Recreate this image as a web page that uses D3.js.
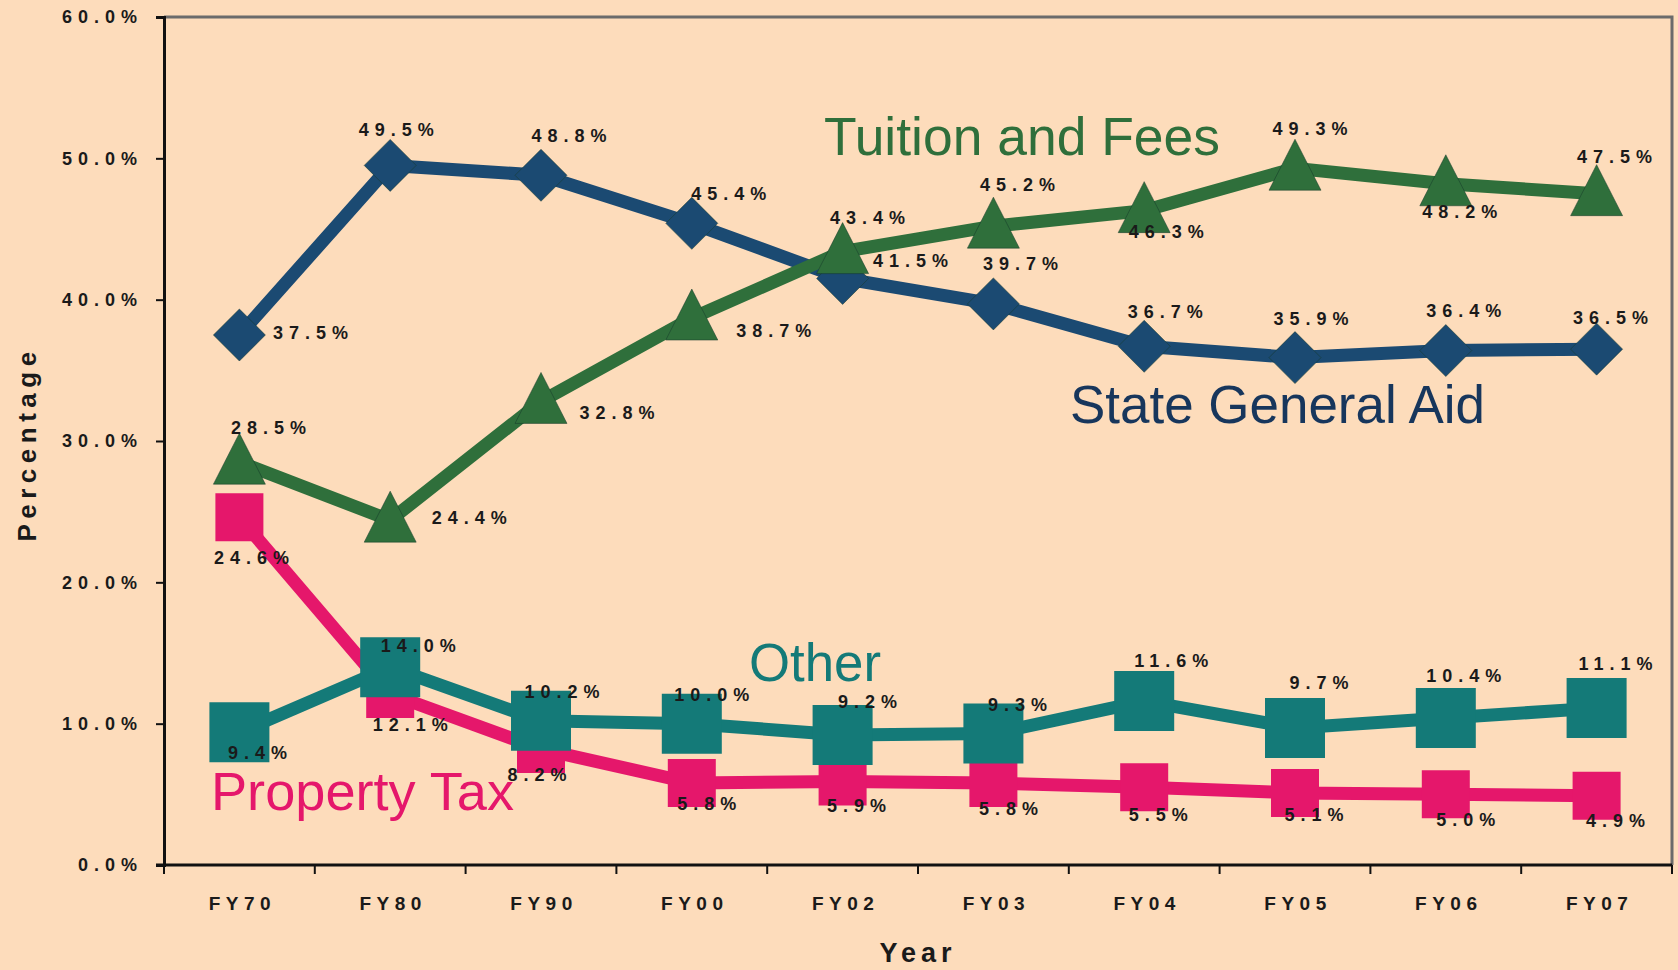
<!DOCTYPE html>
<html>
<head>
<meta charset="utf-8">
<script src="https://cdn.jsdelivr.net/npm/d3@7"></script>
<style>
  body { margin: 0; background: #fcdcbc; }
  svg { display: block; }
  .tick-label { font-family: "Liberation Sans", Arial, sans-serif; font-weight: bold; fill: #1a1a1a; }
  .name { font-family: "Liberation Sans", Arial, sans-serif; }
</style>
</head>
<body>
<svg></svg>
<script>
var years = ["FY70", "FY80", "FY90", "FY00", "FY02", "FY03", "FY04", "FY05", "FY06", "FY07"];
var yTicks = [0, 10, 20, 30, 40, 50, 60];

var stateAid = [37.5, 49.5, 48.8, 45.4, 41.5, 39.7, 36.7, 35.9, 36.4, 36.5];
var tuition = [28.5, 24.4, 32.8, 38.7, 43.4, 45.2, 46.3, 49.3, 48.2, 47.5];
var propertyTax = [24.6, 12.1, 8.2, 5.8, 5.9, 5.8, 5.5, 5.1, 5.0, 4.9];
var other = [9.4, 14.0, 10.2, 10.0, 9.2, 9.3, 11.6, 9.7, 10.4, 11.1];

// where each value label sits relative to its point
var stateAidLabels = [[71,-2],[6,-35],[28,-39],[37,-29],[68,-17],[27,-40],[21,-34],[16,-39],[18,-40],[14,-31]];
var tuitionLabels = [[29,-34],[79,-2],[76,12],[82,13],[25,-34],[24,-41],[22,21],[15,-39],[14,28],[18,-37]];
var propertyLabels = [[12,41],[20,31],[-4,26],[15,21],[14,24],[15,26],[14,28],[19,22],[20,26],[19,25]];
var otherLabels = [[18,21],[28,-21],[21,-29],[20,-29],[25,-33],[24,-29],[27,-40],[24,-45],[18,-42],[19,-44]];

var width = 1678, height = 970;
var margin = {top: 17, right: 6, bottom: 105, left: 164};

var svg = d3.select("svg")
   .attr("width", width)
   .attr("height", height);

svg.append("rect")
   .attr("width", width)
   .attr("height", height)
   .attr("fill", "#fddcbb");

var x = d3.scaleBand()
   .domain(years)
   .range([margin.left, width - margin.right]);

var y = d3.scaleLinear()
   .domain([0, 60])
   .range([height - margin.bottom, margin.top]);

// frame: grey top and right
svg.append("path")
   .attr("d", "M" + x.range()[0] + "," + y(60) + "H" + x.range()[1] + "V" + y(0))
   .attr("fill", "none")
   .attr("stroke", "#6b6b6b")
   .attr("stroke-width", 3);

// y axis
var yAxis = svg.append("g")
   .attr("transform", "translate(" + margin.left + ",0)")
   .call(d3.axisLeft(y).tickValues(yTicks).tickSize(8).tickFormat(function(d){ return d3.format(".1f")(d) + "%"; }));
yAxis.select(".domain").attr("stroke", "#111").attr("stroke-width", 3);
yAxis.selectAll(".tick line").attr("stroke", "#111").attr("stroke-width", 2);
yAxis.selectAll(".tick text")
   .attr("class", "tick-label")
   .attr("x", -21)
   .style("font-size", "18px")
   .style("letter-spacing", "6px")
   .attr("fill", "#1a1a1a");

// x axis: ticks at band edges
var xAxis = svg.append("g")
   .attr("transform", "translate(0," + y(0) + ")");
xAxis.append("line")
   .attr("x1", x.range()[0] - 8).attr("x2", x.range()[1])
   .attr("stroke", "#111").attr("stroke-width", 3);
xAxis.selectAll("line.tk")
   .data(years.concat(["end"]))
   .enter().append("line")
   .attr("class", "tk")
   .attr("x1", function(d, i){ return x.range()[0] + i * x.bandwidth(); })
   .attr("x2", function(d, i){ return x.range()[0] + i * x.bandwidth(); })
   .attr("y1", 0).attr("y2", 9)
   .attr("stroke", "#111").attr("stroke-width", 2);
xAxis.selectAll("text")
   .data(years)
   .enter().append("text")
   .attr("class", "tick-label")
   .attr("x", function(d){ return x(d) + x.bandwidth() / 2 + 3; })
   .attr("y", 45)
   .attr("text-anchor", "middle")
   .style("font-size", "19px")
   .style("letter-spacing", "5.5px")
   .text(function(d){ return d; });

// axis titles
svg.append("text")
   .attr("class", "tick-label")
   .attr("x", 918).attr("y", 962)
   .attr("text-anchor", "middle")
   .style("font-size", "27px")
   .style("letter-spacing", "5px")
   .text("Year");

svg.append("text")
   .attr("class", "tick-label")
   .attr("transform", "translate(36,444) rotate(-90)")
   .attr("text-anchor", "middle")
   .style("font-size", "26px")
   .style("letter-spacing", "5.5px")
   .text("Percentage");

var series = [
   {name: "State General Aid", values: stateAid, labels: stateAidLabels, color: "#1b4a72", shape: "diamond"},
   {name: "Tuition and Fees", values: tuition, labels: tuitionLabels, color: "#2f6f3b", shape: "triangle"},
   {name: "Property Tax", values: propertyTax, labels: propertyLabels, color: "#e5176b", shape: "smallsquare"},
   {name: "Other", values: other, labels: otherLabels, color: "#147a78", shape: "square"}
];

var line = d3.line()
   .x(function(d, i){ return x(years[i]) + x.bandwidth() / 2; })
   .y(function(d){ return y(d); });

function markerPath(shape) {
   if (shape == "diamond") return "M0,-26L26,0L0,26L-26,0Z";
   if (shape == "triangle") return "M0,-29L26,22L-26,22Z";
   if (shape == "smallsquare") return "M-24,-24H24V24H-24Z";
   return "M-30,-30H30V30H-30Z";
}

series.forEach(function(s) {
   var g = svg.append("g").attr("class", "series");
   g.append("path")
      .datum(s.values)
      .attr("d", line)
      .attr("fill", "none")
      .attr("stroke", s.color)
      .attr("stroke-width", 13)
      .attr("stroke-linejoin", "miter");
   g.selectAll("path.marker")
      .data(s.values)
      .enter().append("path")
      .attr("class", "marker")
      .attr("transform", function(d, i){
         return "translate(" + (x(years[i]) + x.bandwidth() / 2) + "," + y(d) + ")";
      })
      .attr("d", markerPath(s.shape))
      .attr("fill", s.color)
      .attr("stroke", s.shape == "diamond" || s.shape == "triangle" ? "#163a2a" : "none")
      .attr("stroke-opacity", 0.5)
      .attr("stroke-width", 1);
});

// value labels on top
series.forEach(function(s) {
   svg.append("g")
      .selectAll("text")
      .data(s.values)
      .enter().append("text")
      .attr("class", "tick-label")
      .attr("x", function(d, i){ return x(years[i]) + x.bandwidth() / 2 + s.labels[i][0] + 3; })
      .attr("y", function(d, i){ return y(d) + s.labels[i][1]; })
      .attr("text-anchor", "middle")
      .attr("dominant-baseline", "central")
      .style("font-size", "18px")
      .style("letter-spacing", "6px")
      .text(function(d){ return d3.format(".1f")(d) + "%"; });
});

// series names
var names = [
   {text: "Tuition and Fees", x: 824, y: 155, len: 396, color: "#2f6f3b"},
   {text: "State General Aid", x: 1070, y: 423, len: 415, color: "#17365c"},
   {text: "Other", x: 749, y: 681, len: 132, color: "#147a78"},
   {text: "Property Tax", x: 211, y: 810, len: 303, color: "#e5176b"}
];
svg.selectAll("text.name")
   .data(names)
   .enter().append("text")
   .attr("class", "name")
   .attr("x", function(d){ return d.x; })
   .attr("y", function(d){ return d.y; })
   .attr("textLength", function(d){ return d.len; })
   .attr("lengthAdjust", "spacingAndGlyphs")
   .attr("fill", function(d){ return d.color; })
   .style("font-size", "54px")
   .text(function(d){ return d.text; });
</script>
</body>
</html>
